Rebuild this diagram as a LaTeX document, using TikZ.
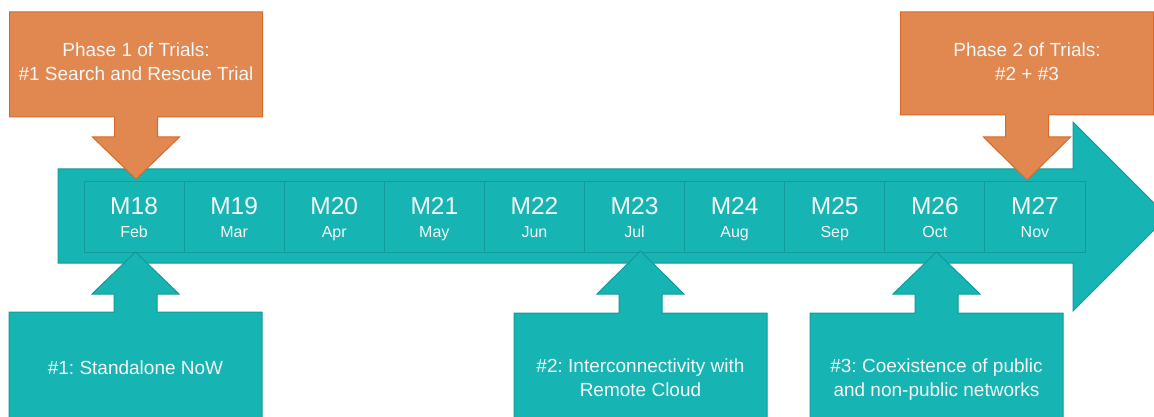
\documentclass[tikz,border=0pt]{standalone}
\usepackage{fontspec}
\setmainfont{Liberation Sans}
\frenchspacing
\definecolor{tealfill}{HTML}{17B4B4}
\definecolor{tealline}{HTML}{139A9A}
\definecolor{orangefill}{HTML}{E0884F}
\definecolor{orangeline}{HTML}{D9692A}
\definecolor{paletext}{HTML}{F4F7F7}
\tikzset{
  tealshape/.style={fill=tealfill, draw=tealline, line width=1pt, line join=miter},
  orangeshape/.style={fill=orangefill, draw=orangeline, line width=1pt, line join=miter},
  cell/.style={draw=tealline, line width=1pt, fill=tealfill, minimum width=100.1pt,
    minimum height=71pt, inner sep=0pt, outer sep=0pt},
  monthnum/.style={text=paletext, font=\fontsize{24.5}{28}\selectfont, inner sep=0pt, anchor=base},
  monthname/.style={text=paletext, font=\fontsize{16}{19}\selectfont, inner sep=0pt, anchor=base},
  calltext/.style={text=paletext, font=\fontsize{19}{24}\selectfont, align=center, inner sep=0pt}
}
% box with an arrow pointing from its near edge to a tip
% #1 style, #2 centre x, #3 far edge y, #4 near edge y, #5 head base y, #6 tip y
\newcommand\arrowbox[6]{%
  \draw[#1] ({#2-126.5},#3) -- ({#2+126.5},#3) -- ({#2+126.5},#4) -- ({#2+21.5},#4)
    -- ({#2+21.5},#5) -- ({#2+43.5},#5) -- (#2,#6) -- ({#2-43.5},#5) -- ({#2-21.5},#5)
    -- ({#2-21.5},#4) -- ({#2-126.5},#4) -- cycle;}
\begin{document}
\begin{tikzpicture}[x=1pt,y=-1pt]
\useasboundingbox (0,0) rectangle (1154,417);
\clip (0,0) rectangle (1154,417);
\fill[white] (0,0) rectangle (1154,417);

% timeline arrow
\draw[tealshape] (58,169) -- (1073,169) -- (1073,122) -- (1167.5,216.5)
  -- (1073,311) -- (1073,263) -- (58,263) -- cycle;

% month cells
\foreach \i/\m/\n in {0/18/Feb,1/19/Mar,2/20/Apr,3/21/May,4/22/Jun,
                       5/23/Jul,6/24/Aug,7/25/Sep,8/26/Oct,9/27/Nov}{
  \node[cell] (c\m) at ({84+100.1*\i+50.05},216.5) {};
  \node[monthnum] (mn\m) at ({84+100.1*\i+50.05},214) {M\m};
  \node[monthname] (mo\m) at ({84+100.1*\i+50.05},237) {\n};
}

% trial phases
\arrowbox{orangeshape}{136}{12}{117}{137}{179}
\arrowbox{orangeshape}{1027}{12}{115}{137}{180}
\node[calltext] (p1) at (136,62) {Phase 1 of Trials:\\\#1 Search and Rescue Trial};
\node[calltext] (p2) at (1027,62) {Phase 2 of Trials:\\\#2 + \#3};

% trial set-ups
\arrowbox{tealshape}{135.5}{430}{312}{294}{252}
\arrowbox{tealshape}{640.5}{430}{313}{294}{251}
\arrowbox{tealshape}{936.5}{430}{313}{294}{252}
\node[calltext, anchor=base] (t1) at (135.5,374) {\#1: Standalone NoW};
\node[calltext] (t2) at (640.5,378) {\#2: Interconnectivity with\\Remote Cloud};
\node[calltext] (t3) at (936.5,380) {\#3: Coexistence of public\\and non-public networks};
\end{tikzpicture}
\end{document}
